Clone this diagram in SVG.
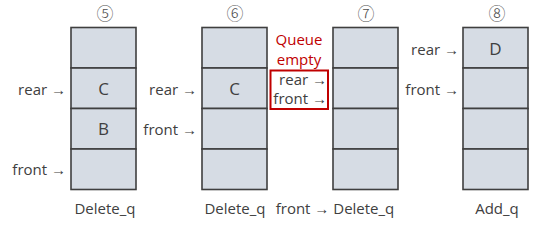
<svg xmlns="http://www.w3.org/2000/svg" width="541" height="228" viewBox="0 0 541 228">
<style>
.cell{fill:#d6dce4;stroke:#3f3f3f;stroke-width:1.6}
.t{font-family:"Open Sans","Noto Sans",sans-serif;font-size:15px;fill:#404040}
.big{font-size:17px}
.e{text-anchor:end}
.m{text-anchor:middle}
.red{fill:#c00000}
.num{font-family:"Noto Sans CJK SC","Noto Sans CJK JP",sans-serif;font-size:17px;font-weight:300;fill:#505050;text-anchor:middle}
</style>
<rect width="541" height="228" fill="#ffffff"/>
<g id="stack5">
<text class="num" x="105" y="20">⑤</text>
<rect class="cell" x="71" y="27.5" width="65" height="40.5"/>
<rect class="cell" x="71" y="68" width="65" height="40.5"/>
<rect class="cell" x="71" y="108.5" width="65" height="40.5"/>
<rect class="cell" x="71" y="149" width="65" height="40.5"/>
<text class="t big m" x="103.5" y="95">C</text>
<text class="t big m" x="103.5" y="135">B</text>
<text class="t e" x="66" y="95">rear →</text>
<text class="t e" x="66" y="175">front →</text>
<text class="t m" x="105" y="214">Delete_q</text>
</g>
<g id="stack6">
<text class="num" x="235" y="20">⑥</text>
<rect class="cell" x="202" y="27.5" width="65" height="40.5"/>
<rect class="cell" x="202" y="68" width="65" height="40.5"/>
<rect class="cell" x="202" y="108.5" width="65" height="40.5"/>
<rect class="cell" x="202" y="149" width="65" height="40.5"/>
<text class="t big m" x="234.5" y="95">C</text>
<text class="t e" x="197" y="95">rear →</text>
<text class="t e" x="197" y="135">front →</text>
<text class="t m" x="235" y="214">Delete_q</text>
</g>
<g id="stack7">
<text class="num" x="366" y="20">⑦</text>
<rect class="cell" x="333" y="27.5" width="65" height="40.5"/>
<rect class="cell" x="333" y="68" width="65" height="40.5"/>
<rect class="cell" x="333" y="108.5" width="65" height="40.5"/>
<rect class="cell" x="333" y="149" width="65" height="40.5"/>
<text class="t m red" x="299" y="45">Queue</text>
<text class="t m red" x="299" y="65">empty</text>
<rect x="270.5" y="70.5" width="57.5" height="38.5" fill="none" stroke="#c00000" stroke-width="2"/>
<text class="t e" x="327" y="85">rear →</text>
<text class="t e" x="327" y="104">front →</text>
<text class="t m" x="335" y="214">front → Delete_q</text>
</g>
<g id="stack8">
<text class="num" x="497" y="20">⑧</text>
<rect class="cell" x="463" y="27.5" width="65" height="40.5"/>
<rect class="cell" x="463" y="68" width="65" height="40.5"/>
<rect class="cell" x="463" y="108.5" width="65" height="40.5"/>
<rect class="cell" x="463" y="149" width="65" height="40.5"/>
<text class="t big m" x="495.5" y="55">D</text>
<text class="t e" x="459" y="55">rear →</text>
<text class="t e" x="459" y="95">front →</text>
<text class="t m" x="497" y="214">Add_q</text>
</g>
</svg>
